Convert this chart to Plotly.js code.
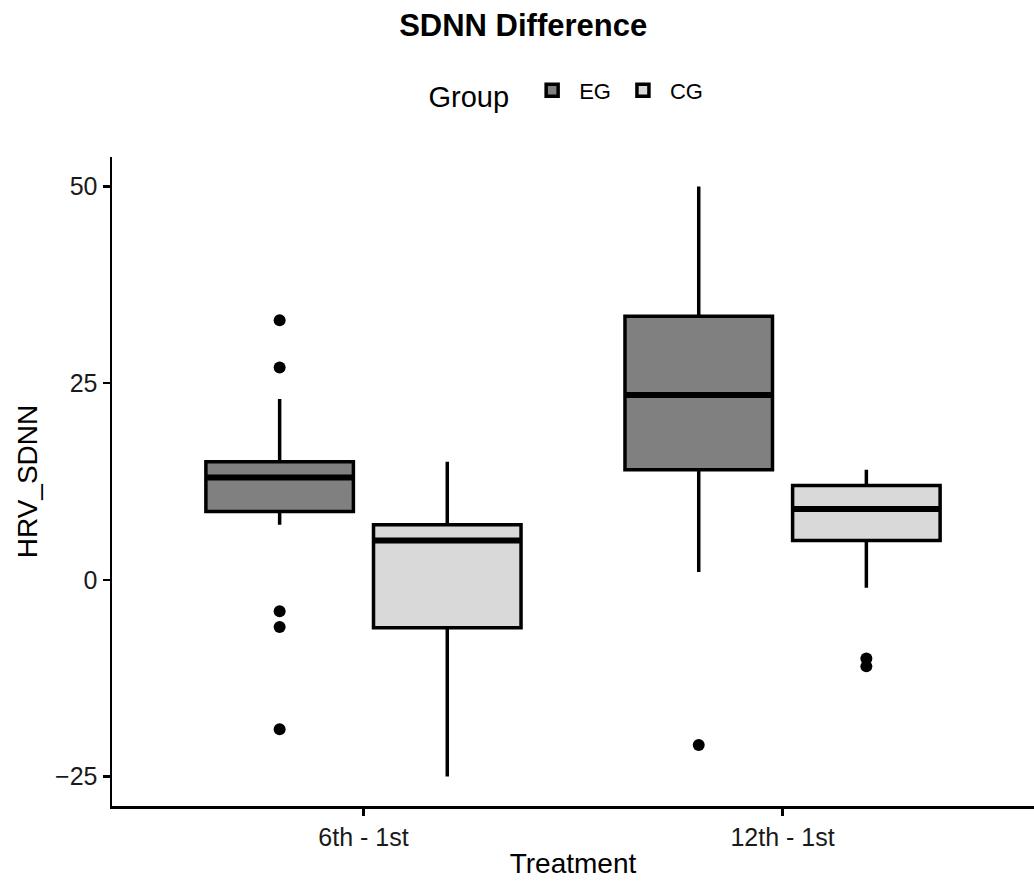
<!DOCTYPE html>
<html>
<head>
<meta charset="utf-8">
<script src="https://cdn.plot.ly/plotly-3.0.1.min.js"></script>
<style>html,body{margin:0;padding:0;background:#fff;}#chart{width:1034px;height:881px;}</style>
</head>
<body>
<div id="chart"></div>
<script>
var categories = ['6th - 1st', '12th - 1st'];
var groups = ['EG', 'CG'];

var egQ1 = [8.7, 14];
var egMedian = [13, 23.5];
var egQ3 = [15, 33.5];
var egLower = [7, 1];
var egUpper = [23, 50];
var egOutliers = [[33, 27, -4, -6, -19], [-21]];

var cgQ1 = [-6.1, 5];
var cgMedian = [5, 9];
var cgQ3 = [7, 12];
var cgLower = [-25, -1];
var cgUpper = [15, 14];
var cgOutliers = [[], [-10, -11]];

var yTicks = [-25, 0, 25, 50];

var fills = {EG: '#808080', CG: '#D9D9D9'};
var stats = {
  EG: {q1: egQ1, med: egMedian, q3: egQ3, lo: egLower, hi: egUpper, out: egOutliers},
  CG: {q1: cgQ1, med: cgMedian, q3: cgQ3, lo: cgLower, hi: cgUpper, out: cgOutliers}
};

var data = [];
groups.forEach(function (g) {
  var s = stats[g];
  categories.forEach(function (c, i) {
    var t = {
      type: 'box', name: g, x: [c],
      q1: [s.q1[i]], median: [s.med[i]], q3: [s.q3[i]],
      lowerfence: [s.lo[i]], upperfence: [s.hi[i]],
      offsetgroup: g, legendgroup: g, showlegend: i === 0,
      boxpoints: s.out[i].length ? 'outliers' : false,
      jitter: 0, pointpos: 0,
      fillcolor: fills[g],
      line: {color: '#000', width: 3.5},
      whiskerwidth: 0,
      marker: {color: '#000', size: 12, outliercolor: '#000', line: {width: 0}},
      hoverinfo: 'skip'
    };
    if (s.out[i].length) t.y = [s.out[i]];
    data.push(t);
  });
});
// thicker median lines (ggplot fatten), drawn from the same medians
groups.forEach(function (g) {
  var s = stats[g];
  categories.forEach(function (c, i) {
    data.push({
      type: 'box', name: g, x: [c],
      q1: [s.med[i]], median: [s.med[i]], q3: [s.med[i]],
      lowerfence: [s.med[i]], upperfence: [s.med[i]],
      offsetgroup: g, legendgroup: g, showlegend: false,
      boxpoints: false, fillcolor: 'rgba(0,0,0,0)',
      line: {color: '#000', width: 6}, whiskerwidth: 0, hoverinfo: 'skip'
    });
  });
});

var layout = {
  width: 1034, height: 881,
  paper_bgcolor: '#fff', plot_bgcolor: '#fff',
  margin: {l: 112, r: 0, t: 157, b: 75},
  font: {family: 'Liberation Sans, Arial, sans-serif', color: '#000'},
  title: {text: '<b>SDNN Difference</b>', font: {size: 31, color: '#000'}, x: 0.506, xanchor: 'center', xref: 'container', y: 0.972, yanchor: 'middle', yref: 'container'},
  boxmode: 'group', boxgap: 0.2, boxgroupgap: 0.12,
  showlegend: true,
  legend: {orientation: 'h', x: 0.494, xanchor: 'center', xref: 'paper', y: 0.894, yanchor: 'middle', yref: 'container',
    title: {text: 'Group ', font: {size: 29}, side: 'left'}, font: {size: 22}, itemwidth: 44, traceorder: 'normal'},
  xaxis: {
    type: 'category', range: [-0.6, 1.6],
    showline: true, linecolor: '#000', linewidth: 2.5, mirror: false,
    ticks: 'outside', ticklen: 7, tickwidth: 2.5, tickcolor: '#000',
    tickfont: {size: 25, color: '#1a1a1a'}, showgrid: false, zeroline: false,
    title: {text: 'Treatment', font: {size: 28}, standoff: 4}
  },
  yaxis: {
    range: [-28.75, 53.75], tickvals: yTicks,
    showline: true, linecolor: '#000', linewidth: 2.5,
    ticks: 'outside', ticklen: 7, tickwidth: 2.5, tickcolor: '#000',
    tickfont: {size: 25, color: '#1a1a1a'}, showgrid: false, zeroline: false,
    title: {text: 'HRV_SDNN', font: {size: 28}, standoff: 10}
  }
};

Plotly.newPlot('chart', data, layout, {displayModeBar: false, staticPlot: true});
</script>
</body>
</html>
